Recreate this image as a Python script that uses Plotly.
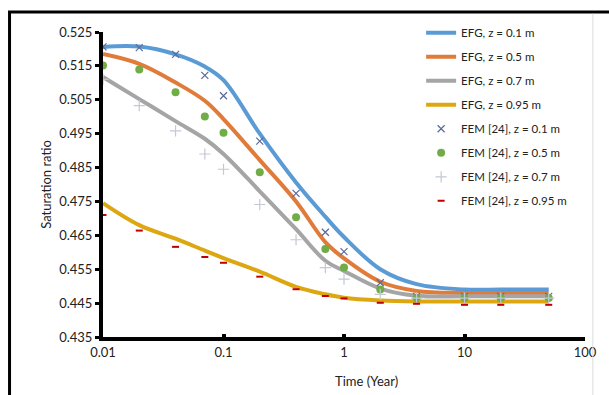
import plotly.graph_objects as go

time_years = [0.01, 0.02, 0.04, 0.07, 0.1, 0.2, 0.4, 0.7, 1, 2, 4, 10, 20, 50]

efg_z01 = [0.5206, 0.5207, 0.5184, 0.5148, 0.5108, 0.4950, 0.4806, 0.4705, 0.4645, 0.4550, 0.4506, 0.4490, 0.4490, 0.4490]
efg_z05 = [0.5185, 0.5156, 0.5101, 0.5047, 0.4993, 0.4872, 0.4750, 0.4630, 0.4582, 0.4513, 0.4486, 0.4480, 0.4480, 0.4480]
efg_z07 = [0.5117, 0.5052, 0.4987, 0.4935, 0.4890, 0.4780, 0.4668, 0.4575, 0.4545, 0.4493, 0.4472, 0.4470, 0.4470, 0.4470]
efg_z095 = [0.4745, 0.4680, 0.4640, 0.4605, 0.4583, 0.4543, 0.4498, 0.4476, 0.4466, 0.4458, 0.4455, 0.4455, 0.4455, 0.4455]

fem_z01 = [0.5206, 0.5204, 0.5184, 0.5122, 0.5062, 0.4928, 0.4774, 0.4659, 0.4602, 0.4510, 0.4470, 0.4470, 0.4470, 0.4470]
fem_z05 = [0.5151, 0.5139, 0.5072, 0.5001, 0.4953, 0.4836, 0.4703, 0.4610, 0.4555, 0.4490, 0.4465, 0.4465, 0.4465, 0.4465]
fem_z07 = [0.5110, 0.5033, 0.4958, 0.4890, 0.4845, 0.4741, 0.4637, 0.4555, 0.4521, 0.4476, 0.4465, 0.4465, 0.4465, 0.4465]
fem_z095 = [0.4710, 0.4664, 0.4616, 0.4586, 0.4569, 0.4528, 0.4491, 0.4471, 0.4464, 0.4451, 0.4448, 0.4445, 0.4445, 0.4445]

y_ticks = [0.435, 0.445, 0.455, 0.465, 0.475, 0.485, 0.495, 0.505, 0.515, 0.525]
x_ticks = [0.01, 0.1, 1, 10, 100]
x_tick_text = ["0.01", "0.1", "1", "10", "100"]

FONT = "Lato"

fig = go.Figure()

lines = [
    ("EFG, z = 0.1 m", efg_z01, "#5B9BD5"),
    ("EFG, z = 0.5 m", efg_z05, "#E07B39"),
    ("EFG, z = 0.7 m", efg_z07, "#A5A5A5"),
    ("EFG, z = 0.95 m", efg_z095, "#DDA712"),
]
for i, (name, vals, col) in enumerate(lines):
    fig.add_trace(go.Scatter(x=time_years, y=vals, mode="lines", name=name, legendgroup=f"g{i}",
                             line=dict(color=col, width=4, shape="spline", smoothing=1.0)))

fig.add_trace(go.Scatter(x=time_years, y=fem_z01, mode="markers", name="FEM [24], z = 0.1 m",
                         legendgroup="g4",
                         marker=dict(symbol="x-thin-open", size=7, color="#5A6B99",
                                     line=dict(color="#5A6B99", width=1.2))))
fig.add_trace(go.Scatter(x=time_years, y=fem_z05, mode="markers", name="FEM [24], z = 0.5 m",
                         legendgroup="g5",
                         marker=dict(symbol="circle", size=8, color="#70AD47")))
fig.add_trace(go.Scatter(x=time_years, y=fem_z07, mode="markers", name="FEM [24], z = 0.7 m",
                         legendgroup="g6",
                         marker=dict(symbol="cross-thin-open", size=8, color="#C4C8D6",
                                     line=dict(color="#C4C8D6", width=1.2))))
fig.add_trace(go.Scatter(x=time_years, y=fem_z095, mode="markers", name="FEM [24], z = 0.95 m",
                         legendgroup="g7",
                         marker=dict(symbol="line-ew-open", size=5, color="#C00000",
                                     line=dict(color="#C00000", width=2))))

fig.update_layout(
    width=609, height=395,
    margin=dict(l=103, r=16, t=32, b=58),
    paper_bgcolor="white", plot_bgcolor="white",
    font=dict(family=FONT, size=12, color="#222"),
    showlegend=True,
    legend=dict(x=0.66, y=1.045, xanchor="left", yanchor="top",
                bgcolor="rgba(0,0,0,0)", font=dict(size=11.5, family=FONT),
                itemwidth=30, tracegroupgap=5),
    shapes=[
        dict(type="rect", xref="paper", yref="paper", x0=-0.1939, x1=1.2, y0=-0.5, y1=1.0656,
             line=dict(color="black", width=3), fillcolor="rgba(0,0,0,0)", layer="below"),
        dict(type="line", xref="paper", yref="paper", x0=1.0163, x1=1.0163, y0=-0.5, y1=1.06,
             line=dict(color="#dddddd", width=1)),
    ],
    annotations=[
        dict(text="Time (Year)", xref="paper", yref="paper", x=(371 - 103) / 490, y=-0.11,
             xanchor="center", yanchor="top", showarrow=False, font=dict(size=13, family=FONT)),
    ],
)

fig.update_xaxes(type="log", range=[-2, 2], tickvals=x_ticks, ticktext=x_tick_text,
                 showgrid=False, zeroline=False, showline=True, linecolor="black", linewidth=4,
                 ticks="inside", ticklen=3, tickwidth=4, tickcolor="black",
                 tickfont=dict(size=13, family=FONT))
fig.update_yaxes(range=[0.435, 0.525], tickvals=y_ticks, ticktext=[f"{v:.3f}" for v in y_ticks],
                 showgrid=False, zeroline=False, showline=True, linecolor="black", linewidth=4,
                 ticks="outside", ticklen=4, tickwidth=3, tickcolor="black",
                 title=dict(text="Saturation ratio", font=dict(size=13, family=FONT), standoff=6),
                 tickfont=dict(size=13, family=FONT))

fig.write_html("out.html")
